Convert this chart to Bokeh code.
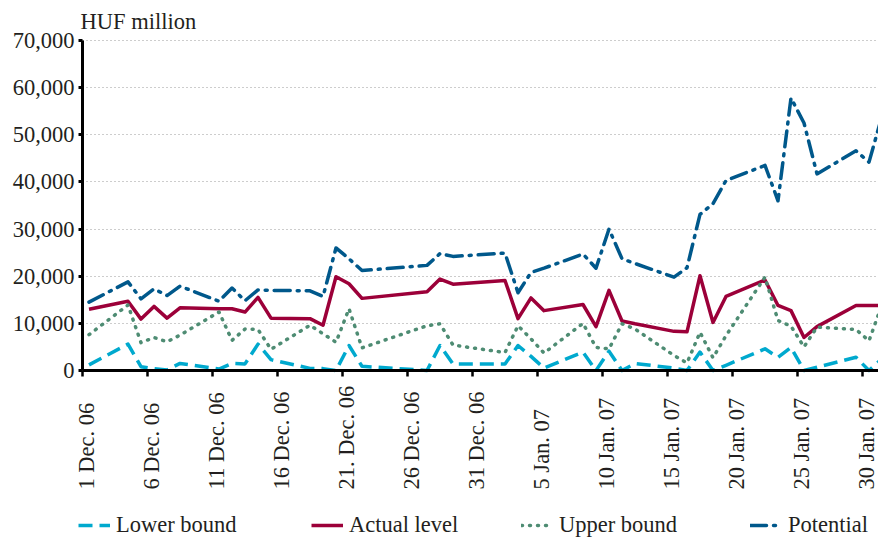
from math import pi
import pandas as pd
from bokeh.plotting import figure
from bokeh.models import (Range1d, FixedTicker, NumeralTickFormatter, Legend, LegendItem,
                          ColumnDataSource, Label, LabelSet, CustomJSTickFormatter)
from bokeh.core.properties import value
from bokeh.embed import file_html
from bokeh.resources import INLINE

# ---- data (HUF million, business days) ----
dates = ["2006-12-01", "2006-12-04", "2006-12-05", "2006-12-06", "2006-12-07",
         "2006-12-08", "2006-12-11", "2006-12-12", "2006-12-13", "2006-12-14", "2006-12-15",
         "2006-12-18", "2006-12-19", "2006-12-20", "2006-12-21", "2006-12-22", "2006-12-27",
         "2006-12-28", "2006-12-29", "2007-01-02", "2007-01-03", "2007-01-04", "2007-01-05",
         "2007-01-08", "2007-01-09", "2007-01-10", "2007-01-11", "2007-01-12", "2007-01-15",
         "2007-01-16", "2007-01-17", "2007-01-18", "2007-01-19", "2007-01-22", "2007-01-23",
         "2007-01-24", "2007-01-25", "2007-01-26", "2007-01-29", "2007-01-30", "2007-01-31"]

lower_bound = [1200, 5600, 800, 400, 100, 1500, 300, 1500, 1400, 5600, 2300,
               450, 400, 0, 5300, 900, 0, 5300, 1400, 1400, 5300, 3000, 500,
               3900, 0, 4100, 0, 1500, 500, 0, 3900, 0, 1100, 4600, 2800,
               4900, 0, 700, 2800, 0, 2500]

actual_level = [13000, 14700, 10900, 13600, 11100, 13300, 13100, 13100, 12400, 15500, 11100,
                11000, 9600, 19900, 18400, 15300, 16700, 19400, 18300, 19100, 11000, 15400, 12700,
                14000, 9300, 17000, 10500, 9900, 8300, 8200, 20100, 10200, 15700, 19200, 13800,
                12700, 7000, 9300, 13800, 13800, 13800]

upper_bound = [7600, 13900, 5900, 7000, 6100, 7500, 12400, 6400, 8800, 8700, 4500,
               9600, 7800, 6000, 13100, 4800, 9500, 9900, 5400, 3800, 9500, 6700, 3700,
               10000, 4900, 4600, 9900, 8800, 3200, 1600, 8100, 2700, 7400, 19800, 10600,
               9400, 5000, 9200, 8700, 6300, 14000]

potential = [14500, 18800, 15200, 17300, 15900, 17900, 14700, 17500, 14800, 17100, 17000,
             16900, 15700, 26000, 23700, 21200, 22300, 24800, 24200, 24900, 16500, 20800, 21700,
             24700, 21700, 30000, 23700, 22700, 19800, 21800, 33100, 35400, 40300, 43500, 36000,
             57800, 52500, 41700, 46600, 44200, 54000]

tick_dates = ["2006-12-01", "2006-12-06", "2006-12-11", "2006-12-16", "2006-12-21", "2006-12-26",
              "2006-12-31", "2007-01-05", "2007-01-10", "2007-01-15", "2007-01-20", "2007-01-25",
              "2007-01-30"]
tick_labels = ["1 Dec. 06", "6 Dec. 06", "11 Dec. 06", "16 Dec. 06", "21. Dec. 06", "26 Dec. 06",
               "31 Dec. 06", "5 Jan. 07", "10 Jan. 07", "15 Jan. 07", "20 Jan. 07", "25 Jan. 07",
               "30 Jan. 07"]
y_ticks = [0, 10000, 20000, 30000, 40000, 50000, 60000, 70000]

# ---- styling / layout ----
FONT = "Liberation Serif"
FS = "22.5px"
TXT = "#231f20"
C_LOWER = "#00a9ce"
C_ACTUAL = "#9c0039"
C_UPPER = "#4e8c73"
C_POT = "#00588b"

W, H = 878, 538
LEFT = 82                 # pixel column of the y axis
TOP_Y, ZERO_Y = 40, 370   # pixel rows of 70,000 and 0
PX_PER_DAY = 13.0

# points sit in the middle of each day (between tick marks)
x = pd.to_datetime(dates) + pd.Timedelta(hours=12)
src = ColumnDataSource(dict(x=x, lower=lower_bound, actual=actual_level,
                            upper=upper_bound, pot=potential))

tick_ms = [float(v) for v in (pd.to_datetime(tick_dates).astype("int64") // 10**6)]
x_start = tick_ms[0]
day_ms = 86400000.0
x_lo = x_start - LEFT / PX_PER_DAY * day_ms
x_end = x_start + (W - LEFT) / PX_PER_DAY * day_ms

units_per_px = (y_ticks[-1] - y_ticks[0]) / (ZERO_Y - TOP_Y)
y_lo = -(H - ZERO_Y) * units_per_px
y_hi = y_ticks[-1] + TOP_Y * units_per_px

p = figure(width=W, height=H, x_axis_type="datetime", output_backend="svg",
           toolbar_location=None, x_range=Range1d(x_lo, x_end), y_range=Range1d(y_lo, y_hi))
p.min_border_left = 0
p.min_border_right = 0
p.min_border_top = 0
p.min_border_bottom = 0
p.outline_line_color = None
p.background_fill_color = "white"
p.border_fill_color = "white"

r_lower = p.line("x", "lower", source=src, line_color=C_LOWER, line_width=3.5,
                 line_dash="14 7", line_join="round")
r_actual = p.line("x", "actual", source=src, line_color=C_ACTUAL, line_width=3.5,
                  line_join="round")
r_upper = p.line("x", "upper", source=src, line_color=C_UPPER, line_width=3.5,
                 line_dash="1 7", line_cap="round", line_join="round")
r_pot = p.line("x", "pot", source=src, line_color=C_POT, line_width=3.5,
               line_dash="16 7 2 7", line_cap="round", line_join="round")

# horizontal dotted grid, only right of the y axis
p.xgrid.visible = False
grid = p.ygrid[0]
if "cross_bounds" in grid.properties():
    grid.ticker = FixedTicker(ticks=y_ticks[1:])
    grid.cross_bounds = (x_start, x_end)
    grid.grid_line_color = "#9a9a9a"
    grid.grid_line_dash = "1 3"
    grid.grid_line_width = 1.2
else:
    grid.visible = False
    gy = y_ticks[1:]
    p.segment(x0=[x_start] * len(gy), x1=[x_end] * len(gy), y0=gy, y1=gy,
              line_color="#9a9a9a", line_dash="1 3", line_width=1.2, level="underlay")

# y axis, placed at 1 Dec
ya = p.yaxis[0]
ya.fixed_location = x_start
ya.ticker = FixedTicker(ticks=y_ticks)
ya.bounds = (y_ticks[0], y_ticks[-1])
ya.formatter = NumeralTickFormatter(format="0,0")
ya.axis_line_width = 3
ya.axis_line_color = "black"
ya.major_tick_out = 4
ya.major_tick_in = 0
ya.major_tick_line_width = 3
ya.minor_tick_line_color = None
ya.major_label_standoff = 4
ya.major_label_text_font = FONT
ya.major_label_text_font_size = FS
ya.major_label_text_color = TXT

# x axis at value 0 (labels drawn below as rotated text)
xa = p.xaxis[0]
xa.fixed_location = 0
xa.bounds = (x_start, x_end)
xa.ticker = FixedTicker(ticks=tick_ms)
xa.formatter = CustomJSTickFormatter(code="return ''")
xa.axis_line_width = 3
xa.axis_line_color = "black"
xa.major_tick_out = 6
xa.major_tick_in = 0
xa.major_tick_line_width = 2.5
xa.minor_tick_line_color = None

lab_src = ColumnDataSource(dict(x=tick_ms, y=[0] * len(tick_ms), text=tick_labels))
p.add_layout(LabelSet(x="x", y="y", text="text", source=lab_src, angle=pi / 2,
                      text_align="left", text_baseline="middle", x_offset=4, y_offset=-119,
                      text_font=value(FONT), text_font_size=value(FS), text_color=TXT))

p.add_layout(Label(x=x_start, y=y_ticks[-1], text="HUF million", x_offset=-2, y_offset=19,
                   text_baseline="alphabetic", text_align="left", text_font=FONT,
                   text_font_size=FS, text_color=TXT))

# legends
for lbl, r, vx in [("Lower bound", r_lower, 78), ("Actual level", r_actual, 311),
                   ("Upper bound", r_upper, 521), ("Potential", r_pot, 750)]:
    lg = Legend(items=[LegendItem(label=lbl, renderers=[r])], location=(vx, 0),
                orientation="horizontal", glyph_width=32, glyph_height=20, label_standoff=6,
                padding=0, margin=0, border_line_color=None, background_fill_alpha=0,
                label_text_font=FONT, label_text_font_size=FS, label_text_color=TXT)
    p.add_layout(lg)

open("out.html", "w").write(file_html(p, INLINE))
